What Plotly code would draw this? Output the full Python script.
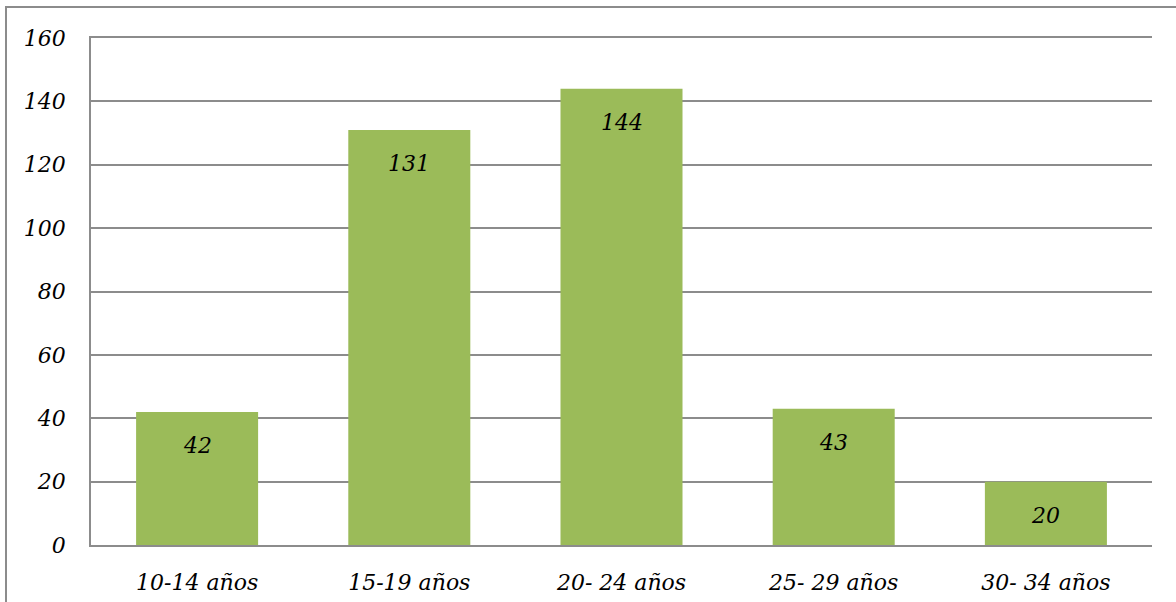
import plotly.graph_objects as go

categories = ["10-14 años", "15-19 años", "20- 24 años", "25- 29 años", "30- 34 años"]
values = [42, 131, 144, 43, 20]
y_ticks = [0, 20, 40, 60, 80, 100, 120, 140, 160]

FONT = "DejaVu Serif"
GRID = "#8c8c8c"
FS = 22

fig = go.Figure()
fig.add_trace(go.Bar(x=categories, y=values, marker=dict(color="#9BBB59", line=dict(width=0)),
                     hoverinfo="skip"))

for c, v in zip(categories, values):
    fig.add_annotation(x=c, y=v, text=f"<i>{v}</i>", showarrow=False, yshift=-34,
                       font=dict(family=FONT, size=FS, color="#000"))

fig.update_layout(
    width=1176, height=602,
    margin=dict(l=91, r=24, t=38, b=57),
    paper_bgcolor="white", plot_bgcolor="white",
    bargap=0.425, showlegend=False,
    font=dict(family=FONT, size=FS, color="#000"),
)
fig.update_yaxes(range=[0, 160], tickvals=y_ticks, ticktext=[f"<i>{t}</i>" for t in y_ticks],
                 tickfont=dict(family=FONT, size=FS, color="#000"), automargin=False,
                 showgrid=True, gridcolor=GRID, gridwidth=1.5,
                 showline=True, linecolor=GRID, linewidth=1.5,
                 zeroline=False, ticks="", ticklabelstandoff=19)
fig.update_xaxes(tickvals=categories, ticktext=[f"<i>{c}</i>" for c in categories],
                 tickfont=dict(family=FONT, size=FS, color="#000"), automargin=False,
                 showline=True, linecolor=GRID, linewidth=1.5, mirror=True, ticks="",
                 ticklabelstandoff=17)

fig.add_shape(type="rect", xref="paper", yref="paper",
              x0=(6 - 91) / 1061, x1=1.1, y0=-0.3, y1=1 + 31 / 507,
              line=dict(color="#8c8c8c", width=2), fillcolor="rgba(0,0,0,0)", layer="below")

fig.write_html("out.html")
